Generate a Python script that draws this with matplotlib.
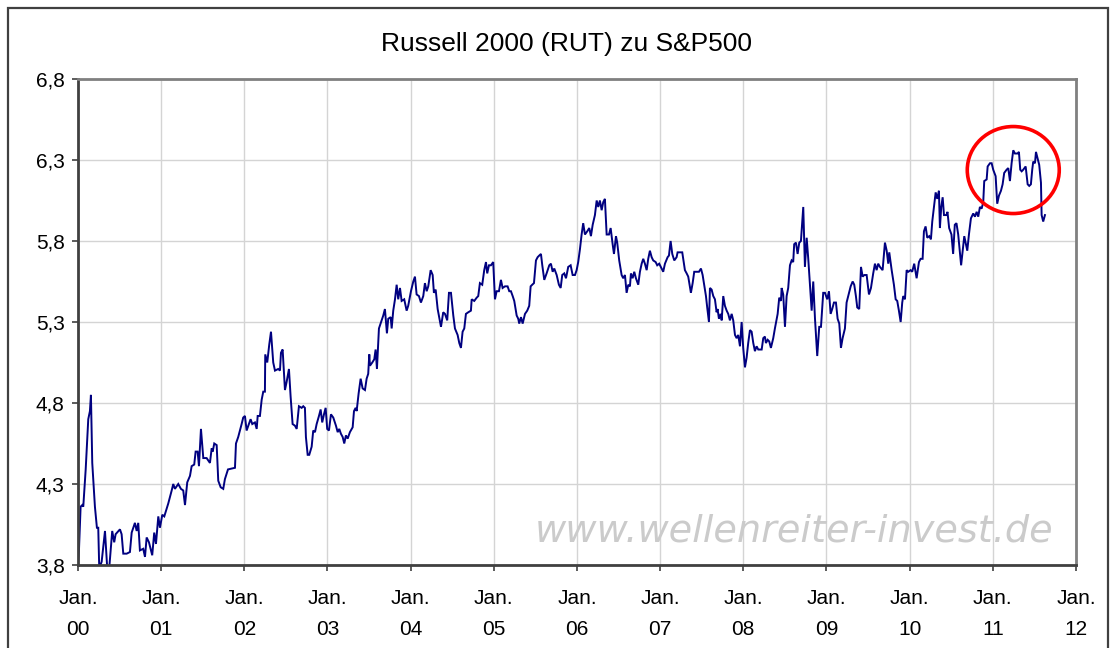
import matplotlib
matplotlib.use("Agg")
import matplotlib.pyplot as plt
from matplotlib.patches import Ellipse, Rectangle

# years since Jan. 2000 and ratio Russell 2000 / S&P500
years = [
    0.000, 0.012, 0.032, 0.052, 0.064, 0.093, 0.124, 0.144, 0.156, 0.172,
    0.204, 0.228, 0.244, 0.256, 0.285, 0.325, 0.352, 0.376, 0.412, 0.436,
    0.453, 0.505, 0.525, 0.545, 0.586, 0.625, 0.646, 0.685, 0.706, 0.725,
    0.745, 0.785, 0.806, 0.826, 0.854, 0.893, 0.917, 0.938, 0.966, 0.986,
    1.014, 1.038, 1.086, 1.127, 1.146, 1.166, 1.206, 1.238, 1.266, 1.287,
    1.314, 1.347, 1.367, 1.398, 1.415, 1.439, 1.455, 1.479, 1.507, 1.547,
    1.587, 1.608, 1.620, 1.639, 1.668, 1.687, 1.716, 1.747, 1.767, 1.804,
    1.888, 1.900, 1.927, 1.968, 1.987, 2.008, 2.028, 2.048, 2.076, 2.096,
    2.128, 2.149, 2.161, 2.188, 2.209, 2.228, 2.248, 2.252, 2.276, 2.300,
    2.321, 2.348, 2.369, 2.408, 2.429, 2.441, 2.461, 2.489, 2.509, 2.537,
    2.557, 2.581, 2.609, 2.630, 2.657, 2.690, 2.709, 2.729, 2.741, 2.762,
    2.781, 2.810, 2.829, 2.850, 2.870, 2.898, 2.918, 2.937, 2.958, 2.978,
    2.997, 3.018, 3.042, 3.070, 3.102, 3.123, 3.142, 3.162, 3.183, 3.202,
    3.222, 3.243, 3.270, 3.303, 3.319, 3.339, 3.351, 3.375, 3.399, 3.423,
    3.451, 3.471, 3.490, 3.503, 3.511, 3.539, 3.563, 3.579, 3.595, 3.619,
    3.652, 3.671, 3.691, 3.715, 3.731, 3.760, 3.772, 3.791, 3.812, 3.832,
    3.851, 3.872, 3.892, 3.923, 3.952, 3.971, 4.004, 4.032, 4.052, 4.072,
    4.100, 4.124, 4.152, 4.172, 4.193, 4.212, 4.241, 4.265, 4.280, 4.301,
    4.325, 4.365, 4.392, 4.413, 4.440, 4.461, 4.485, 4.513, 4.533, 4.565,
    4.585, 4.605, 4.625, 4.645, 4.665, 4.693, 4.725, 4.734, 4.765, 4.794,
    4.813, 4.833, 4.861, 4.885, 4.906, 4.921, 4.942, 4.966, 4.993, 5.014,
    5.034, 5.062, 5.086, 5.106, 5.134, 5.166, 5.186, 5.206, 5.227, 5.246,
    5.275, 5.294, 5.306, 5.327, 5.347, 5.375, 5.402, 5.426, 5.443, 5.462,
    5.483, 5.507, 5.527, 5.546, 5.567, 5.583, 5.607, 5.635, 5.667, 5.687,
    5.708, 5.727, 5.756, 5.783, 5.804, 5.823, 5.847, 5.868, 5.895, 5.924,
    5.948, 5.976, 5.996, 6.015, 6.036, 6.056, 6.075, 6.096, 6.124, 6.148,
    6.168, 6.189, 6.216, 6.237, 6.256, 6.276, 6.297, 6.316, 6.336, 6.357,
    6.385, 6.405, 6.429, 6.445, 6.469, 6.484, 6.508, 6.537, 6.556, 6.577,
    6.597, 6.617, 6.637, 6.649, 6.669, 6.689, 6.709, 6.737, 6.757, 6.778,
    6.797, 6.817, 6.838, 6.857, 6.877, 6.898, 6.917, 6.946, 6.965, 6.989,
    7.018, 7.037, 7.058, 7.090, 7.106, 7.126, 7.146, 7.170, 7.198, 7.210,
    7.238, 7.266, 7.278, 7.298, 7.319, 7.338, 7.370, 7.391, 7.410, 7.439,
    7.467, 7.491, 7.511, 7.530, 7.551, 7.566, 7.587, 7.599, 7.619, 7.639,
    7.659, 7.679, 7.691, 7.707, 7.728, 7.740, 7.759, 7.779, 7.800, 7.819,
    7.839, 7.860, 7.879, 7.900, 7.920, 7.939, 7.960, 7.980, 7.999, 8.020,
    8.040, 8.059, 8.080, 8.100, 8.120, 8.140, 8.160, 8.180, 8.221, 8.240,
    8.260, 8.272, 8.293, 8.312, 8.332, 8.360, 8.380, 8.413, 8.432, 8.453,
    8.461, 8.480, 8.501, 8.521, 8.540, 8.561, 8.581, 8.600, 8.612, 8.633,
    8.653, 8.673, 8.693, 8.721, 8.741, 8.762, 8.781, 8.801, 8.822, 8.841,
    8.862, 8.889, 8.913, 8.934, 8.961, 8.982, 9.009, 9.030, 9.050, 9.069,
    9.090, 9.114, 9.134, 9.154, 9.174, 9.194, 9.222, 9.242, 9.262, 9.291,
    9.315, 9.334, 9.354, 9.370, 9.394, 9.415, 9.435, 9.455, 9.483, 9.511,
    9.535, 9.562, 9.583, 9.603, 9.622, 9.643, 9.675, 9.703, 9.724, 9.743,
    9.755, 9.784, 9.811, 9.832, 9.851, 9.871, 9.892, 9.911, 9.923, 9.944,
    9.964, 9.983, 10.012, 10.031, 10.055, 10.084, 10.112, 10.132, 10.156, 10.172,
    10.192, 10.212, 10.236, 10.256, 10.272, 10.292, 10.313, 10.332, 10.352, 10.364,
    10.380, 10.397, 10.413, 10.443, 10.455, 10.475, 10.503, 10.523, 10.543, 10.563,
    10.584, 10.605, 10.619, 10.638, 10.657, 10.677, 10.693, 10.713, 10.737, 10.765,
    10.785, 10.806, 10.825, 10.845, 10.866, 10.885, 10.897, 10.926, 10.938, 10.966,
    10.986, 11.005, 11.034, 11.053, 11.074, 11.098, 11.118, 11.137, 11.166, 11.186,
    11.206, 11.226, 11.246, 11.266, 11.298, 11.314, 11.330, 11.347, 11.366, 11.395,
    11.419, 11.438, 11.458, 11.474, 11.486, 11.507, 11.519, 11.539, 11.558, 11.579,
    11.587, 11.606, 11.627,
]
ratio = [
    3.81, 3.89, 4.16, 4.17, 4.16, 4.39, 4.70, 4.75, 4.85, 4.43,
    4.16, 4.03, 4.03, 3.78, 3.82, 4.01, 3.78, 3.78, 4.01, 3.94,
    3.99, 4.02, 3.99, 3.87, 3.87, 3.88, 4.00, 4.06, 4.01, 4.06,
    3.89, 3.90, 3.85, 3.97, 3.94, 3.86, 4.00, 3.93, 4.10, 4.03,
    4.11, 4.10, 4.18, 4.26, 4.30, 4.27, 4.30, 4.27, 4.26, 4.17,
    4.31, 4.35, 4.41, 4.42, 4.50, 4.50, 4.41, 4.64, 4.46, 4.46,
    4.43, 4.52, 4.50, 4.55, 4.54, 4.32, 4.28, 4.27, 4.33, 4.39,
    4.40, 4.55, 4.59, 4.67, 4.71, 4.72, 4.63, 4.66, 4.70, 4.67,
    4.68, 4.64, 4.72, 4.72, 4.82, 4.87, 4.87, 5.10, 5.05, 5.16,
    5.24, 5.05, 5.00, 5.01, 5.00, 5.11, 5.13, 4.88, 4.93, 5.01,
    4.84, 4.67, 4.66, 4.64, 4.78, 4.77, 4.78, 4.77, 4.59, 4.48,
    4.48, 4.53, 4.63, 4.62, 4.67, 4.72, 4.76, 4.68, 4.73, 4.77,
    4.64, 4.63, 4.73, 4.71, 4.66, 4.62, 4.64, 4.61, 4.59, 4.55,
    4.60, 4.58, 4.62, 4.65, 4.75, 4.77, 4.75, 4.86, 4.95, 4.89,
    4.88, 4.95, 4.98, 5.10, 5.03, 5.05, 5.07, 5.13, 5.01, 5.26,
    5.31, 5.34, 5.38, 5.23, 5.32, 5.33, 5.26, 5.37, 5.44, 5.53,
    5.44, 5.51, 5.43, 5.44, 5.37, 5.40, 5.49, 5.55, 5.58, 5.47,
    5.46, 5.42, 5.46, 5.54, 5.49, 5.52, 5.62, 5.59, 5.48, 5.50,
    5.38, 5.27, 5.36, 5.35, 5.31, 5.48, 5.48, 5.34, 5.26, 5.22,
    5.17, 5.14, 5.24, 5.26, 5.35, 5.36, 5.37, 5.44, 5.43, 5.45,
    5.46, 5.54, 5.53, 5.62, 5.67, 5.60, 5.65, 5.65, 5.67, 5.44,
    5.49, 5.49, 5.56, 5.51, 5.52, 5.52, 5.49, 5.49, 5.46, 5.43,
    5.34, 5.32, 5.29, 5.33, 5.29, 5.35, 5.37, 5.40, 5.52, 5.53,
    5.54, 5.68, 5.70, 5.71, 5.72, 5.65, 5.56, 5.60, 5.65, 5.66,
    5.61, 5.63, 5.59, 5.53, 5.51, 5.59, 5.60, 5.57, 5.64, 5.65,
    5.59, 5.59, 5.62, 5.67, 5.75, 5.84, 5.91, 5.84, 5.86, 5.88,
    5.83, 5.90, 5.96, 6.05, 6.01, 6.05, 5.99, 6.04, 6.06, 5.84,
    5.84, 5.88, 5.78, 5.72, 5.83, 5.79, 5.68, 5.59, 5.57, 5.59,
    5.48, 5.53, 5.52, 5.60, 5.57, 5.61, 5.57, 5.53, 5.61, 5.66,
    5.69, 5.66, 5.62, 5.69, 5.74, 5.70, 5.68, 5.67, 5.65, 5.66,
    5.63, 5.61, 5.66, 5.70, 5.71, 5.80, 5.72, 5.68, 5.70, 5.73,
    5.73, 5.73, 5.69, 5.62, 5.60, 5.58, 5.48, 5.54, 5.61, 5.61,
    5.61, 5.63, 5.59, 5.53, 5.46, 5.39, 5.30, 5.51, 5.50, 5.46,
    5.44, 5.36, 5.38, 5.32, 5.35, 5.31, 5.46, 5.40, 5.37, 5.35,
    5.31, 5.35, 5.31, 5.22, 5.20, 5.22, 5.15, 5.30, 5.14, 5.02,
    5.08, 5.17, 5.25, 5.24, 5.17, 5.12, 5.15, 5.13, 5.13, 5.20,
    5.21, 5.17, 5.19, 5.18, 5.14, 5.20, 5.26, 5.35, 5.45, 5.43,
    5.51, 5.47, 5.27, 5.46, 5.51, 5.65, 5.68, 5.67, 5.78, 5.79,
    5.72, 5.79, 5.80, 6.01, 5.64, 5.82, 5.69, 5.53, 5.37, 5.55,
    5.32, 5.09, 5.27, 5.27, 5.48, 5.48, 5.44, 5.49, 5.35, 5.38,
    5.42, 5.42, 5.32, 5.29, 5.14, 5.20, 5.26, 5.42, 5.46, 5.52,
    5.55, 5.53, 5.46, 5.39, 5.38, 5.64, 5.58, 5.59, 5.59, 5.47,
    5.51, 5.60, 5.66, 5.62, 5.66, 5.64, 5.62, 5.79, 5.74, 5.66,
    5.73, 5.62, 5.53, 5.44, 5.43, 5.37, 5.30, 5.42, 5.46, 5.44,
    5.62, 5.61, 5.62, 5.61, 5.66, 5.57, 5.67, 5.69, 5.69, 5.86,
    5.89, 5.82, 5.83, 5.81, 5.92, 6.01, 6.10, 6.06, 6.11, 5.88,
    6.01, 6.07, 5.96, 5.96, 5.98, 5.88, 5.84, 5.72, 5.90, 5.91,
    5.84, 5.73, 5.65, 5.74, 5.83, 5.78, 5.74, 5.84, 5.94, 5.97,
    5.95, 5.98, 5.95, 6.01, 6.00, 6.04, 6.17, 6.18, 6.26, 6.28,
    6.28, 6.24, 6.20, 6.03, 6.08, 6.11, 6.15, 6.22, 6.24, 6.25,
    6.17, 6.28, 6.36, 6.34, 6.34, 6.35, 6.24, 6.23, 6.24, 6.26,
    6.15, 6.14, 6.15, 6.24, 6.29, 6.28, 6.35, 6.31, 6.27, 6.16,
    5.96, 5.92, 5.96,
]

y_ticks = [3.8, 4.3, 4.8, 5.3, 5.8, 6.3, 6.8]
x_ticks = list(range(13))
x_labels = [f"Jan.\n{y:02d}" for y in x_ticks]

plt.rcParams['font.family'] = ['Liberation Sans', 'DejaVu Sans']

fig = plt.figure(figsize=(11.12, 6.48), dpi=100)
ax = fig.add_axes([0.0701, 0.1281, 0.8975, 0.7500])

ax.plot(years, ratio, color='#000080', lw=1.4, solid_joinstyle='miter')

ax.set_xlim(0, 12)
ax.set_ylim(3.8, 6.8)
ax.set_xticks(x_ticks)
ax.set_xticklabels(x_labels, linespacing=1.75)
ax.set_yticks(y_ticks)
ax.set_yticklabels([f"{v:.1f}".replace('.', ',') for v in y_ticks])
ax.tick_params(axis='both', labelsize=15, length=4.5, width=1.2,
               color='#404040', direction='out')
ax.tick_params(axis='x', pad=13)
ax.tick_params(axis='y', pad=5)
ax.grid(True, color='#d4d4d4', lw=1.0)
ax.set_axisbelow(True)

for side in ['left', 'bottom']:
    ax.spines[side].set_color('#404040')
    ax.spines[side].set_linewidth(2.0)
for side in ['top', 'right']:
    ax.spines[side].set_color('#808080')
    ax.spines[side].set_linewidth(2.0)

# red circle around the recent top
ax.add_patch(Ellipse((11.246, 6.238), width=1.106, height=0.537,
                     facecolor='none', edgecolor='#ff0000', lw=2.6,
                     clip_on=False, zorder=5))

fig.text(0.509, 0.932, "Russell 2000 (RUT) zu S&P500", ha='center',
         va='center', fontsize=19)
fig.text(0.714, 0.165, "www.wellenreiter-invest.de", ha='center',
         va='baseline', fontsize=27.5, style='italic', color='#cbcbcb',
         family='DejaVu Sans')

# outer frame of the chart
fig.patches.append(Rectangle((0.0072, -0.05), 0.9892, 1.0377,
                             transform=fig.transFigure, fill=False,
                             edgecolor='#404040', lw=1.6))

fig.savefig("out.png", dpi=100)
